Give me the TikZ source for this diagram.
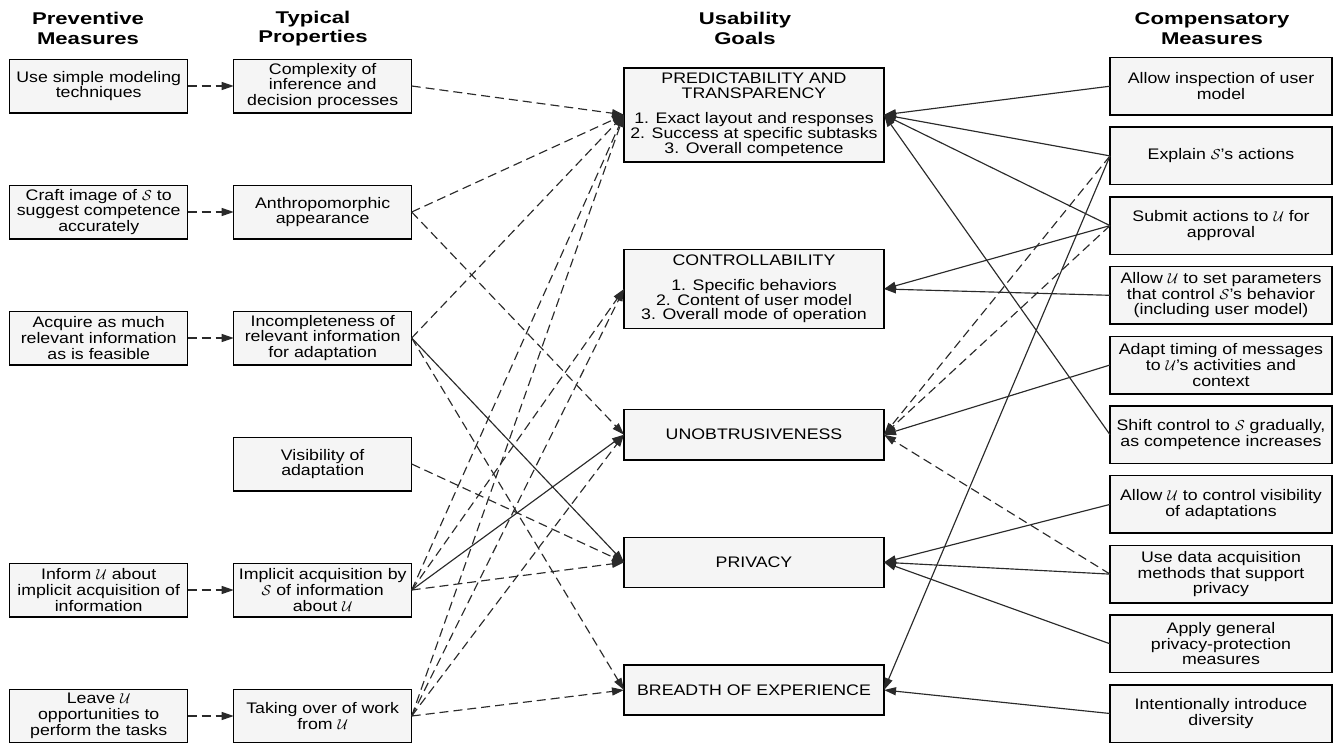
\documentclass[tikz,border=0pt]{standalone}
\usepackage{fontspec}
\setmainfont[FakeStretch=1.16]{Liberation Sans}
\newfontfamily\headfont[FakeStretch=1.3]{Liberation Sans}
\usepackage{tikz}
\usetikzlibrary{positioning}
\usetikzlibrary{arrows.meta}

\definecolor{boxfill}{HTML}{F5F5F5}
\definecolor{linegray}{HTML}{2A2A2A}

\newcommand{\sysS}{$\mathcal{S}$}
\newcommand{\usrU}{$\mathcal{U}$}

\tikzset{
  colhead/.style={align=center, inner sep=0pt, font=\headfont\bfseries\fontsize{17}{19.5}\selectfont},
  colbox/.style={draw, line width=1.5pt, fill=boxfill, outer sep=0pt, inner sep=2pt, align=center,
    minimum width=178pt, minimum height=53.5pt, font=\fontsize{15.3}{15.7}\selectfont},
  goalbox/.style={colbox, minimum width=260pt, font=\fontsize{15.3}{14.8}\selectfont},
  compbox/.style={colbox, minimum width=222pt, minimum height=57.5pt},
  dashlink/.style={draw=linegray, line width=1.15pt, dash pattern=on 9pt off 5pt, -{Triangle[length=12pt,width=8pt]}},
  solidlink/.style={draw=linegray, line width=1.15pt, -{Triangle[length=12pt,width=8pt]}}
}

\begin{document}
\begin{tikzpicture}[x=1pt, y=1pt]
    \useasboundingbox (0,0) rectangle (1333,-742);

    \node (hpre) [colhead] at (88,-28.5) {Preventive\\Measures};
    \node (hprop) [colhead] at (313,-28.5) {Typical\\Properties};
    \node (hgoal) [colhead] at (745,-28.5) {Usability\\Goals};
    \node (hcomp) [colhead] at (1212,-28.5) {Compensatory\\Measures};

    % typical properties
    \node (t1) [colbox] at (322.7,-86) {Complexity of\\inference and\\decision processes};
    \node (t2) [colbox, below=72.5pt of t1] {Anthropomorphic\\appearance};
    \node (t3) [colbox, below=72.5pt of t2] {Incompleteness of\\relevant information\\for adaptation};
    \node (t4) [colbox, below=72.5pt of t3] {Visibility of\\adaptation};
    \node (t5) [colbox, below=72.5pt of t4] {Implicit acquisition by\\\sysS{} of information\\about \usrU};
    \node (t6) [colbox, below=72.5pt of t5] {Taking over of work\\from \usrU};

    % preventive measures
    \node (p1) [colbox, left=46pt of t1] {Use simple modeling\\techniques};
    \node (p2) [colbox, left=46pt of t2] {Craft image of \sysS{} to\\suggest competence\\accurately};
    \node (p3) [colbox, left=46pt of t3] {Acquire as much\\relevant information\\as is feasible};
    \node (p4) [colbox, left=46pt of t5] {Inform \usrU{} about\\implicit acquisition of\\information};
    \node (p5) [colbox, left=46pt of t6] {Leave \usrU\\opportunities to\\perform the tasks};

    % usability goals
    \node (g1) [goalbox, minimum height=94pt] at (754,-114.8) {PREDICTABILITY AND\\TRANSPARENCY\\[10pt]1. Exact layout and responses\\2. Success at specific subtasks\\3. Overall competence};
    \node (g2) [goalbox, minimum height=79.4pt] at (754,-289) {CONTROLLABILITY\\[10pt]1. Specific behaviors\\2. Content of user model\\3. Overall mode of operation};
    \node (g3) [goalbox, minimum height=50.7pt] at (754,-434.7) {UNOBTRUSIVENESS};
    \node (g4) [goalbox, minimum height=50pt] at (754,-562.3) {PRIVACY};
    \node (g5) [goalbox, minimum height=50pt] at (754,-690) {BREADTH OF EXPERIENCE};

    % compensatory measures
    \node (c1) [compbox] at (1221,-86.2) {Allow inspection of user\\model};
    \node (c2) [compbox, below=12.2pt of c1] {Explain \sysS's actions};
    \node (c3) [compbox, below=12.2pt of c2] {Submit actions to \usrU{} for\\approval};
    \node (c4) [compbox, below=12.2pt of c3] {Allow \usrU{} to set parameters\\that control \sysS's behavior\\(including user model)};
    \node (c5) [compbox, below=12.2pt of c4] {Adapt timing of messages\\to \usrU's activities and\\context};
    \node (c6) [compbox, below=12.2pt of c5] {Shift control to \sysS{} gradually,\\as competence increases};
    \node (c7) [compbox, below=12.2pt of c6] {Allow \usrU{} to control visibility\\of adaptations};
    \node (c8) [compbox, below=12.2pt of c7] {Use data acquisition\\methods that support\\privacy};
    \node (c9) [compbox, below=12.2pt of c8] {Apply general\\privacy-protection\\measures};
    \node (c10) [compbox, below=12.2pt of c9] {Intentionally introduce\\diversity};

    % preventive -> properties
    \draw [dashlink] (p1) -- (t1);
    \draw [dashlink] (p2) -- (t2);
    \draw [dashlink] (p3) -- (t3);
    \draw [dashlink] (p4) -- (t5);
    \draw [dashlink] (p5) -- (t6);

    % properties -> goals
    \draw [dashlink] (t1.east) -- (g1.west);
    \draw [dashlink] (t2.east) -- (g1.west);
    \draw [dashlink] (t2.east) -- (g3.west);
    \draw [dashlink] (t3.east) -- (g1.west);
    \draw [solidlink] (t3.east) -- (g4.west);
    \draw [dashlink] (t3.east) -- (g5.west);
    \draw [dashlink] (t4.east) -- (g4.west);
    \draw [dashlink] (t5.east) -- (g1.west);
    \draw [dashlink] (t5.east) -- (g2.west);
    \draw [solidlink] (t5.east) -- (g3.west);
    \draw [dashlink] (t5.east) -- (g4.west);
    \draw [dashlink] (t6.east) -- (g1.west);
    \draw [dashlink] (t6.east) -- (g2.west);
    \draw [dashlink] (t6.east) -- (g3.west);
    \draw [dashlink] (t6.east) -- (g5.west);

    % compensatory -> goals
    \draw [solidlink] (c1.west) -- (g1.east);
    \draw [solidlink] (c2.west) -- (g1.east);
    \draw [dashlink] (c2.west) -- (g3.east);
    \draw [solidlink] (c2.west) -- (g5.east);
    \draw [solidlink] (c3.west) -- (g1.east);
    \draw [solidlink] (c3.west) -- (g2.east);
    \draw [dashlink] (c3.west) -- (g3.east);
    \draw [solidlink] (c4.west) -- (g2.east);
    \draw [solidlink] (c5.west) -- (g3.east);
    \draw [solidlink] (c6.west) -- (g1.east);
    \draw [solidlink] (c7.west) -- (g4.east);
    \draw [solidlink] (c8.west) -- (g4.east);
    \draw [dashlink] (c8.west) -- (g3.east);
    \draw [solidlink] (c9.west) -- (g4.east);
    \draw [solidlink] (c10.west) -- (g5.east);
\end{tikzpicture}
\end{document}
